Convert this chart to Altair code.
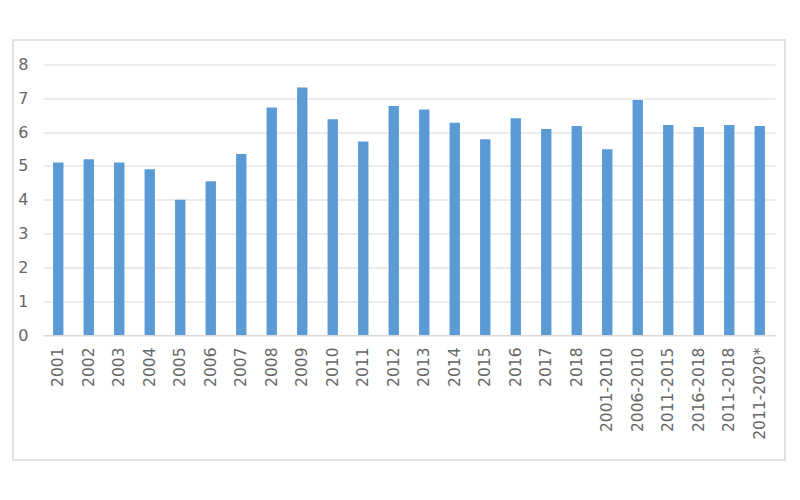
import altair as alt
import pandas as pd

categories = ["2001", "2002", "2003", "2004", "2005", "2006", "2007", "2008", "2009",
              "2010", "2011", "2012", "2013", "2014", "2015", "2016", "2017", "2018",
              "2001-2010", "2006-2010", "2011-2015", "2016-2018", "2011-2018", "2011-2020*"]
values = [5.10, 5.20, 5.10, 4.90, 4.00, 4.55, 5.35, 6.73, 7.32, 6.38, 5.72, 6.77,
          6.67, 6.28, 5.79, 6.41, 6.09, 6.18, 5.49, 6.95, 6.21, 6.15, 6.21, 6.18]
y_ticks = [0, 1, 2, 3, 4, 5, 6, 7, 8]

df = pd.DataFrame({"cat": categories, "val": values})

W, H = 732, 270.5

bars = alt.Chart(df).mark_bar(color="#5b9bd5").encode(
    x=alt.X("cat:N", sort=categories, title=None,
            scale=alt.Scale(paddingInner=0.66, paddingOuter=0.33),
            axis=alt.Axis(labelAngle=-90, labelAlign="right", labelBaseline="middle",
                          labelPadding=12, ticks=False, domain=True, domainColor="#d9d9d9",
                          labelColor="#666666", labelFont="DejaVu Sans", labelFontSize=15.5,
                          grid=False)),
    y=alt.Y("val:Q", title=None, scale=alt.Scale(domain=[0, 8], nice=False),
            axis=alt.Axis(values=y_ticks, ticks=False, domain=False, grid=True,
                          gridColor="#d9d9d9", labelColor="#666666", labelFontSize=16,
                          labelFont="DejaVu Sans", labelPadding=15)),
)

border = alt.Chart(pd.DataFrame({"a": [0]})).mark_rect(
    fill=None, stroke="#d9d9d9", strokeWidth=1.5
).encode(
    x=alt.value(-30), x2=alt.value(742), y=alt.value(-24.5), y2=alt.value(395.5)
)

chart = alt.layer(border, bars).properties(
    width=W, height=H,
    autosize=alt.AutoSizeParams(type="none"),
    padding={"left": 35, "top": 56.5, "right": 14, "bottom": 140},
    view=alt.ViewBackground(stroke="transparent", strokeOpacity=0, strokeWidth=0),
).configure_view(stroke="transparent", strokeWidth=0, strokeOpacity=0).configure(background="white")

chart.save("out.html", embed_options={"renderer": "svg", "actions": False})
